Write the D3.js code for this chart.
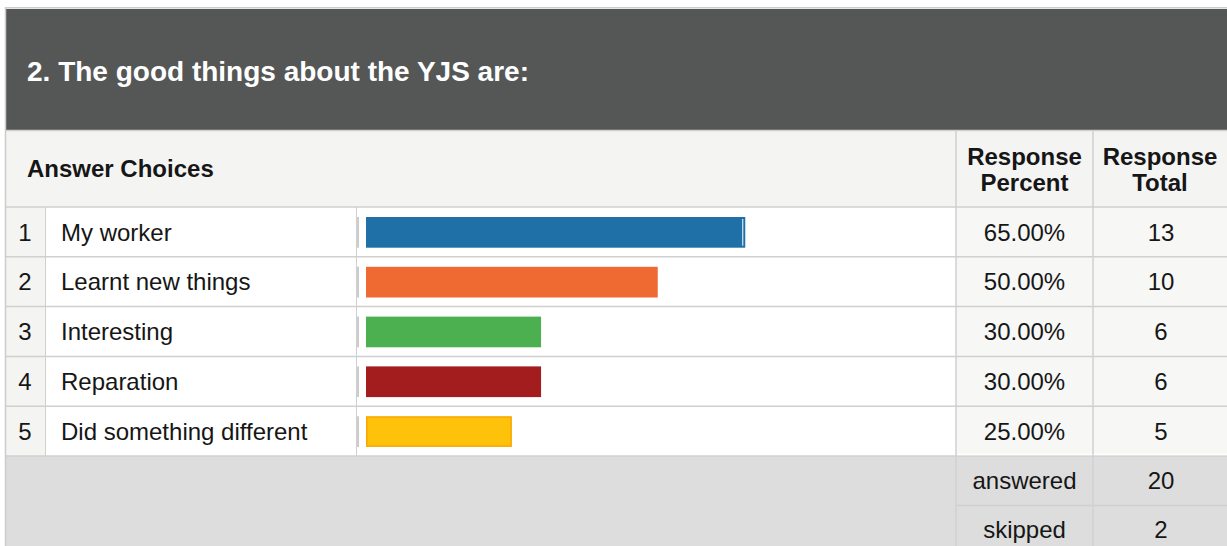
<!DOCTYPE html>
<html>
<head>
<meta charset="utf-8">
<script src="https://cdn.jsdelivr.net/npm/d3@7"></script>
<style>
html, body { margin: 0; padding: 0; background: #ffffff; }
svg { display: block; font-family: "Liberation Sans", Arial, sans-serif; }
</style>
</head>
<body>
<div id="chart"></div>
<script>
const title = '2. The good things about the YJS are:';
const choices = ['My worker', 'Learnt new things', 'Interesting', 'Reparation', 'Did something different'];
const percents = [65, 50, 30, 30, 25];
const totals = [13, 10, 6, 6, 5];
const barColors = ['#1f70a6', '#ef6a33', '#4cb050', '#a31d1f', '#fec20a'];
const summaryLabels = ['answered', 'skipped'];
const summaryValues = [20, 2];
const headPercent = ['Response', 'Percent'];
const headTotal = ['Response', 'Total'];

const width = 1227;
const height = 546;
const left = 6;
const col = { num: left, label: 45.5, bar: 356.5, pct: 956, tot: 1093, end: width };
const titleTop = 8;
const headTop = 131;
const tableTop = 207;
const rowH = 49.8;
const textColor = '#161616';
const lineColor = '#d0d0d0';
const fontSize = '24px';

const svg = d3.select('#chart').append('svg')
    .attr('width', width)
    .attr('height', height);

const y = d3.scaleBand()
    .domain(d3.range(choices.length))
    .range([tableTop, tableTop + rowH * choices.length]);
const x = d3.scaleLinear().domain([0, 100]).range([366, 949.5]);
const tableBottom = tableTop + rowH * choices.length;

// title bar
svg.append('rect')
    .attr('x', left).attr('y', titleTop + 1)
    .attr('width', width - left).attr('height', headTop - titleTop - 2)
    .attr('fill', '#555756');
svg.append('text')
    .attr('x', 27).attr('y', 81)
    .attr('fill', '#ffffff')
    .style('font-size', '28px').style('font-weight', 'bold')
    .text(title);

// header row
svg.append('rect')
    .attr('x', left).attr('y', headTop)
    .attr('width', width - left).attr('height', tableTop - headTop)
    .attr('fill', '#f4f4f3');
svg.append('text')
    .attr('x', 27).attr('y', 177)
    .attr('fill', textColor)
    .style('font-size', fontSize).style('font-weight', 'bold')
    .text('Answer Choices');
[[headPercent, (col.pct + col.tot) / 2], [headTotal, (col.tot + col.end) / 2]].forEach(([lines, cx]) => {
    const t = svg.append('text')
        .attr('text-anchor', 'middle')
        .attr('fill', textColor)
        .style('font-size', fontSize).style('font-weight', 'bold');
    lines.forEach((s, i) => t.append('tspan').attr('x', cx).attr('y', 165 + i * 26).text(s));
});

// data rows
const rows = svg.selectAll('.row')
    .data(choices.map((c, i) => ({ label: c, pct: percents[i], total: totals[i], color: barColors[i], i })))
    .enter()
    .append('g')
    .attr('class', 'row')
    .attr('transform', d => `translate(0, ${y(d.i)})`);

rows.append('rect').attr('x', col.num).attr('width', col.label - col.num).attr('height', rowH).attr('fill', '#f4f4f3');
rows.append('rect').attr('x', col.label).attr('width', col.pct - col.label).attr('height', rowH).attr('fill', '#ffffff');
rows.append('rect').attr('x', col.pct).attr('width', col.end - col.pct).attr('height', rowH).attr('fill', '#f7f7f6');

rows.append('rect')
    .attr('x', d => d.i === 4 ? x(0) + 0.75 : x(0))
    .attr('y', d => d.i === 4 ? 10.75 : 10)
    .attr('width', d => d.i === 4 ? x(d.pct) - x(0) - 1.5 : x(d.pct) - x(0))
    .attr('height', d => d.i === 4 ? 29.2 : 30.7)
    .attr('fill', d => d.color)
    .attr('stroke', d => d.i === 4 ? '#f9a602' : 'none')
    .attr('stroke-width', 1.5);
rows.filter(d => d.i === 0).append('line')
    .attr('x1', d => x(d.pct) - 2.5).attr('x2', d => x(d.pct) - 2.5)
    .attr('y1', 12).attr('y2', 38.7)
    .attr('stroke', '#ffffff').attr('stroke-width', 1);
rows.append('line')
    .attr('x1', col.bar + 1.5).attr('x2', col.bar + 1.5)
    .attr('y1', 10).attr('y2', 40.7)
    .attr('stroke', '#cccccc').attr('stroke-width', 2);

rows.append('text')
    .attr('x', 25).attr('y', rowH / 2 + 8.8)
    .attr('text-anchor', 'middle')
    .attr('fill', textColor).style('font-size', fontSize)
    .text(d => d.i + 1);
rows.append('text')
    .attr('x', 61).attr('y', rowH / 2 + 8.8)
    .attr('fill', textColor).style('font-size', fontSize)
    .text(d => d.label);
rows.append('text')
    .attr('x', (col.pct + col.tot) / 2).attr('y', rowH / 2 + 8.8)
    .attr('text-anchor', 'middle')
    .attr('fill', textColor).style('font-size', fontSize)
    .text(d => d3.format('.2f')(d.pct) + '%');
rows.append('text')
    .attr('x', (col.tot + col.end) / 2 + 1).attr('y', rowH / 2 + 8.8)
    .attr('text-anchor', 'middle')
    .attr('fill', textColor).style('font-size', fontSize)
    .text(d => d.total);

// summary block
svg.append('rect')
    .attr('x', left).attr('y', tableBottom)
    .attr('width', width - left).attr('height', height - tableBottom)
    .attr('fill', '#dddddd');
const sumH = 49;
summaryLabels.forEach((s, i) => {
    const sy = tableBottom + i * sumH;
    svg.append('text')
        .attr('x', (col.pct + col.tot) / 2).attr('y', sy + 32.5)
        .attr('text-anchor', 'middle')
        .attr('fill', textColor).style('font-size', fontSize)
        .text(s);
    svg.append('text')
        .attr('x', (col.tot + col.end) / 2 + 1).attr('y', sy + 32.5)
        .attr('text-anchor', 'middle')
        .attr('fill', textColor).style('font-size', fontSize)
        .text(summaryValues[i]);
});

// grid lines
const hLines = [headTop - 0.5, tableTop].concat(d3.range(1, choices.length + 1).map(i => tableTop + i * rowH));
svg.selectAll('.hline')
    .data(hLines)
    .enter()
    .append('line')
    .attr('x1', left).attr('x2', width)
    .attr('y1', d => d).attr('y2', d => d)
    .attr('stroke', lineColor).attr('stroke-width', 1.5);
svg.append('line')
    .attr('x1', col.pct).attr('x2', width)
    .attr('y1', tableBottom + sumH + 0.5).attr('y2', tableBottom + sumH + 0.5)
    .attr('stroke', lineColor).attr('stroke-width', 1.5);
svg.append('line')
    .attr('x1', col.pct + 1).attr('x2', width)
    .attr('y1', tableBottom - 1.5).attr('y2', tableBottom - 1.5)
    .attr('stroke', '#ffffff').attr('stroke-width', 1.5);
[col.label, col.bar].forEach(cx => {
    svg.append('line')
        .attr('x1', cx).attr('x2', cx)
        .attr('y1', tableTop).attr('y2', tableBottom)
        .attr('stroke', lineColor).attr('stroke-width', 1);
});
[col.pct, col.tot].forEach(cx => {
    svg.append('line')
        .attr('x1', cx).attr('x2', cx)
        .attr('y1', headTop).attr('y2', height)
        .attr('stroke', lineColor).attr('stroke-width', 1.5);
});

// outer frame
svg.append('line')
    .attr('x1', 5.5).attr('x2', 5.5).attr('y1', 7).attr('y2', height)
    .attr('stroke', '#cccccc').attr('stroke-width', 1.5);
svg.append('line')
    .attr('x1', 5).attr('x2', width).attr('y1', 7.75).attr('y2', 7.75)
    .attr('stroke', '#cccccc').attr('stroke-width', 1.5);
</script>
</body>
</html>
